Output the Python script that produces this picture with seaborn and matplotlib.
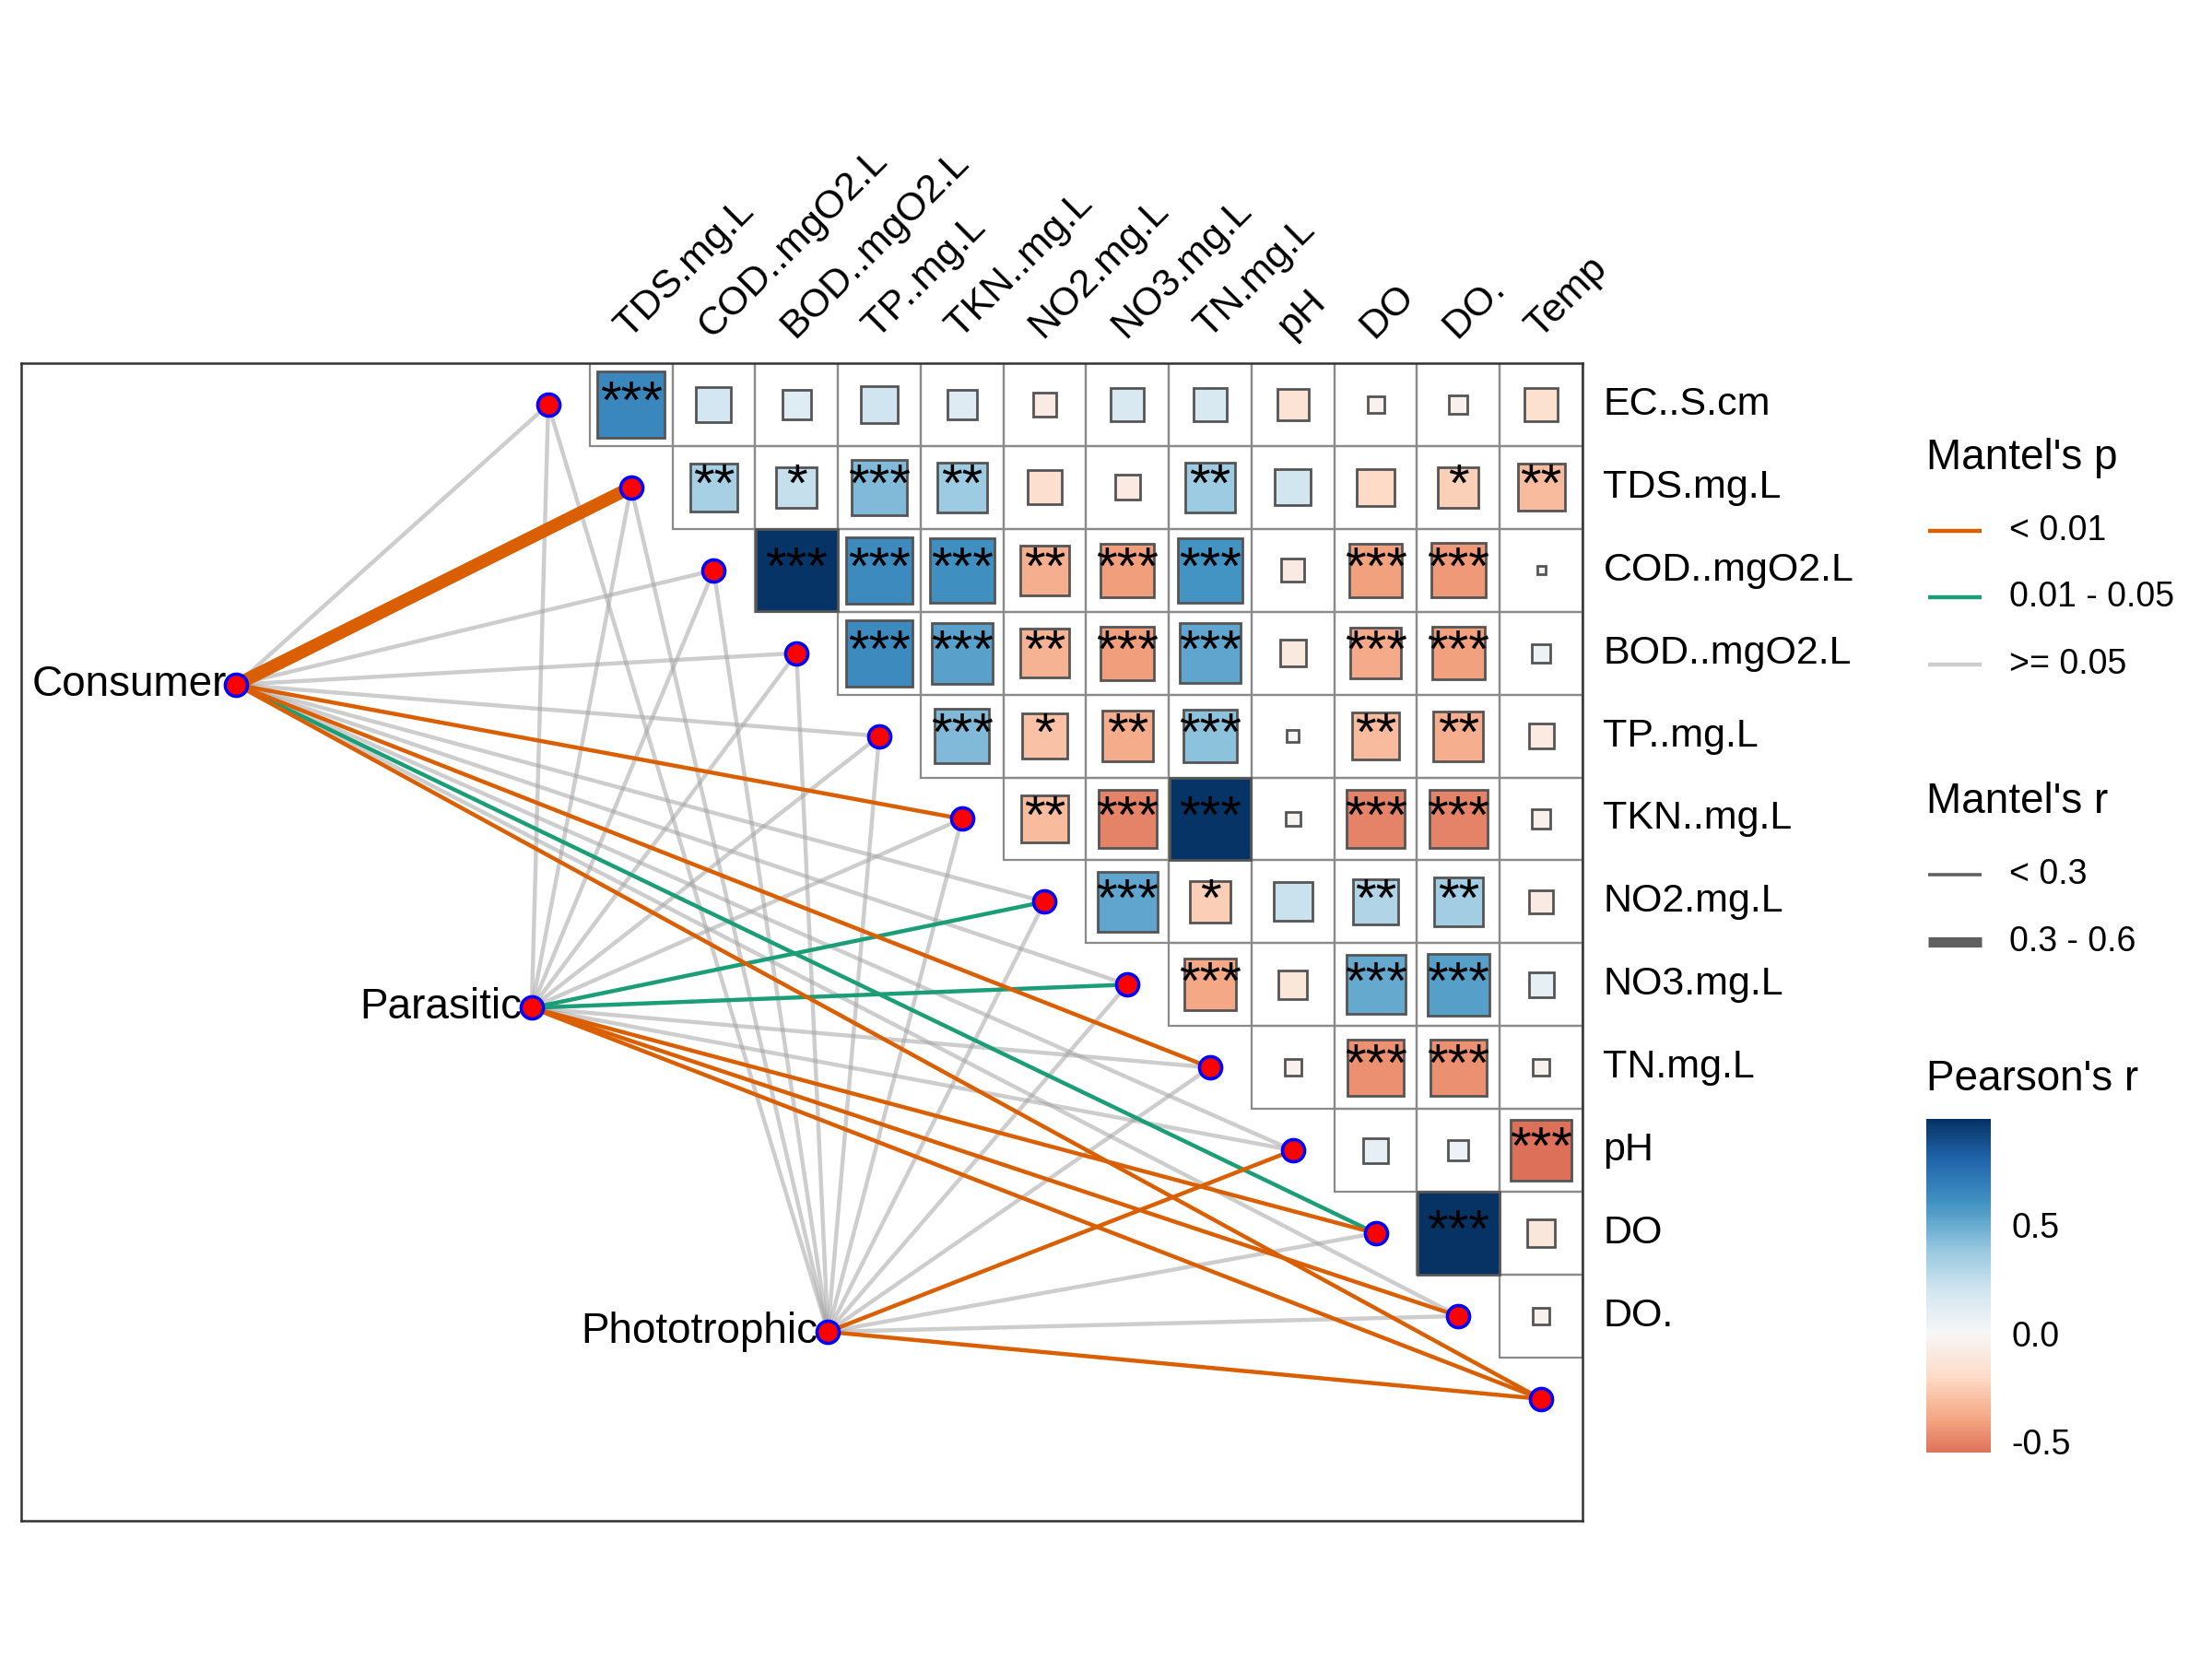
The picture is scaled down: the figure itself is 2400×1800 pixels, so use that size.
import numpy as np
import pandas as pd
import matplotlib
matplotlib.use("Agg")
import matplotlib.pyplot as plt
import seaborn as sns
from matplotlib.colors import ListedColormap, Normalize
from matplotlib.patches import Rectangle
import matplotlib.cm as cm

# ---- data ----
env_vars = ["EC..S.cm", "TDS.mg.L", "COD..mgO2.L", "BOD..mgO2.L", "TP..mg.L",
            "TKN..mg.L", "NO2.mg.L", "NO3.mg.L", "TN.mg.L", "pH", "DO", "DO.", "Temp"]
row_labels = env_vars[:-1]
col_labels = env_vars[1:]

# Pearson's r, upper triangle: row i holds columns i..11
pearson_rows = [
    [0.65, 0.18, 0.12, 0.20, 0.13, -0.08, 0.16, 0.16, -0.14, -0.04, -0.05, -0.16],
    [0.33, 0.24, 0.44, 0.36, -0.17, -0.09, 0.36, 0.19, -0.20, -0.24, -0.32],
    [0.98, 0.64, 0.61, -0.36, -0.42, 0.60, -0.08, -0.41, -0.43, -0.01],
    [0.64, 0.54, -0.35, -0.42, 0.53, -0.10, -0.38, -0.41, 0.05],
    [0.44, -0.29, -0.37, 0.41, -0.02, -0.32, -0.36, -0.09],
    [-0.32, -0.50, 0.98, -0.03, -0.50, -0.50, -0.05],
    [0.53, -0.25, 0.22, 0.30, 0.35, -0.08],
    [-0.39, -0.12, 0.51, 0.55, 0.09],
    [-0.04, -0.46, -0.46, -0.04],
    [0.09, 0.06, -0.55],
    [0.99, -0.11],
    [-0.04],
]
signif_rows = [
    ["***", "", "", "", "", "", "", "", "", "", "", ""],
    ["**", "*", "***", "**", "", "", "**", "", "", "*", "**"],
    ["***", "***", "***", "**", "***", "***", "", "***", "***", ""],
    ["***", "***", "**", "***", "***", "", "***", "***", ""],
    ["***", "*", "**", "***", "", "**", "**", ""],
    ["**", "***", "***", "", "***", "***", ""],
    ["***", "*", "", "**", "**", ""],
    ["***", "", "***", "***", ""],
    ["", "***", "***", ""],
    ["", "", "***"],
    ["***", ""],
    [""],
]

spec_names = ["Consumer", "Parasitic", "Phototrophic"]
consumer_r = [0.14, 0.42, 0.12, 0.09, 0.11, 0.23, 0.10, 0.13, 0.25, 0.12, 0.19, 0.13, 0.26]
consumer_p = [0.12, 0.001, 0.18, 0.31, 0.22, 0.006, 0.27, 0.15, 0.004, 0.19, 0.028, 0.11, 0.003]
parasitic_r = [0.05, 0.06, 0.08, 0.07, 0.04, 0.09, 0.17, 0.18, 0.10, 0.12, 0.24, 0.26, 0.27]
parasitic_p = [0.62, 0.55, 0.41, 0.47, 0.68, 0.33, 0.031, 0.024, 0.21, 0.14, 0.005, 0.003, 0.002]
photo_r = [0.03, 0.04, 0.05, 0.06, 0.04, 0.07, 0.05, 0.06, 0.08, 0.21, 0.10, 0.09, 0.23]
photo_p = [0.71, 0.66, 0.58, 0.52, 0.63, 0.44, 0.57, 0.39, 0.26, 0.007, 0.17, 0.23, 0.004]

p_labels = ["< 0.01", "0.01 - 0.05", ">= 0.05"]
r_labels = ["< 0.3", "0.3 - 0.6"]

# ---- styling / layout ----
p_colors = ["#D95F02", "#1B9E77", (0.635, 0.635, 0.635, 0.53)]
r_widths = [1.6, 5.0]
# node positions in heatmap cell units (layout)
spec_x = [-4.27, -0.70, 2.88]
spec_y = [3.88, 7.78, 11.69]

sns.set_theme(style="white")
plt.rcParams["font.family"] = ["Liberation Sans", "DejaVu Sans"]
plt.rcParams["text.color"] = "black"
plt.rcParams["ytick.color"] = "black"
plt.rcParams["ytick.labelcolor"] = "black"

n = len(row_labels)
corr = np.full((n, n), np.nan)
stars = [["" for _ in range(n)] for _ in range(n)]
for i in range(n):
    for k, v in enumerate(pearson_rows[i]):
        corr[i, i + k] = v
        stars[i][i + k] = signif_rows[i][k]

mantel = pd.DataFrame({
    "spec": np.repeat(spec_names, len(env_vars)),
    "env": env_vars * 3,
    "r": consumer_r + parasitic_r + photo_r,
    "p": consumer_p + parasitic_p + photo_p,
})
mantel["env_idx"] = mantel["env"].map({e: k for k, e in enumerate(env_vars)})
mantel["p_bin"] = pd.cut(mantel["p"], [-1, 0.01, 0.05, 2], right=False, labels=[0, 1, 2]).astype(int)
mantel["r_bin"] = (mantel["r"] >= 0.3).astype(int)

fig = plt.figure(figsize=(12, 9), dpi=200)
ax = fig.add_axes([23 / 2400, 1 - 1650 / 1800, (1717 - 23) / 2400, (1650 - 394) / 1800])

# white background of the upper triangle
mask = np.isnan(corr)
sns.heatmap(np.zeros((n, n)), mask=mask, cmap=ListedColormap(["white"]), cbar=False,
            linewidths=0, xticklabels=False, yticklabels=False, ax=ax)

cmap = plt.get_cmap("RdBu")
norm = Normalize(-1, 1)
for i in range(n):
    for j in range(i, n):
        ax.add_patch(Rectangle((j, i), 1, 1, facecolor="none", edgecolor="#8a8a8a",
                               lw=0.8, zorder=1.5))
        r = corr[i, j]
        side = np.sqrt(abs(r))
        ax.add_patch(Rectangle((j + 0.5 - side / 2, i + 0.5 - side / 2), side, side,
                               facecolor=cmap(norm(r)), edgecolor="#555555", lw=1.0, zorder=3))
        if stars[i][j]:
            ax.text(j + 0.5, i + 0.5, stars[i][j], ha="center", va="center",
                    fontsize=21, color="black", zorder=4)

# mantel links
end_x = mantel["env_idx"] - 0.5
end_y = mantel["env_idx"] + 0.5
sx = mantel["spec"].map(dict(zip(spec_names, spec_x)))
sy = mantel["spec"].map(dict(zip(spec_names, spec_y)))
for pb in [2, 1, 0]:
    sub = mantel[mantel["p_bin"] == pb]
    for idx, row in sub.iterrows():
        ax.plot([sx[idx], end_x[idx]], [sy[idx], end_y[idx]], color=p_colors[pb],
                lw=r_widths[row["r_bin"]], solid_capstyle="butt", zorder=2)

nodes = pd.DataFrame({"x": list(spec_x) + [k - 0.5 for k in range(len(env_vars))],
                      "y": list(spec_y) + [k + 0.5 for k in range(len(env_vars))]})
sns.scatterplot(data=nodes, x="x", y="y", color="red", edgecolor="blue", linewidth=1.3,
                s=75, zorder=5, ax=ax, legend=False)
for name, x, y in zip(spec_names, spec_x, spec_y):
    ax.text(x - 0.12, y, name, ha="right", va="center", fontsize=16.5, zorder=6)

for i, lab in enumerate(row_labels):
    ax.text(n + 0.25, i + 0.5, lab, ha="left", va="center", fontsize=15.5, clip_on=False)
for j, lab in enumerate(col_labels):
    ax.text(j + 0.55, -0.22, lab, ha="left", va="bottom", rotation=45,
            rotation_mode="anchor", fontsize=15.5, clip_on=False)

ax.set_xlim(-6.87, 12.0)
ax.set_ylim(13.97, 0)
ax.set_xlabel("")
ax.set_ylabel("")
for s in ax.spines.values():
    s.set_visible(True)
    s.set_color("#333333")
    s.set_linewidth(0.9)

# ---- legends ----
lax = fig.add_axes([0, 0, 1, 1])
lax.set_xlim(0, 2400)
lax.set_ylim(1800, 0)
lax.axis("off")

lax.text(2090, 497, "Mantel's p", fontsize=16.5, va="center", ha="left")
for y, col, lab in zip([576, 648, 721], p_colors, p_labels):
    lax.plot([2092, 2150], [y, y], color=col, lw=1.6, solid_capstyle="butt")
    lax.text(2180, y, lab, fontsize=13.5, va="center", ha="left")

lax.text(2090, 870, "Mantel's r", fontsize=16.5, va="center", ha="left")
for y, w, lab in zip([949, 1022], r_widths, r_labels):
    lax.plot([2092, 2150], [y, y], color="#5f5f5f", lw=w * 0.8, solid_capstyle="butt")
    lax.text(2180, y, lab, fontsize=13.5, va="center", ha="left")

lax.text(2090, 1171, "Pearson's r", fontsize=16.5, va="center", ha="left")
vmin, vmax = np.nanmin(corr), np.nanmax(corr)
cax = fig.add_axes([2090 / 2400, 1 - 1576 / 1800, 70 / 2400, 362 / 1800])
sm = cm.ScalarMappable(norm=norm, cmap=cmap)
sm.set_array([])
cb = fig.colorbar(sm, cax=cax, boundaries=np.linspace(vmin, vmax, 300), ticks=[-0.5, 0.0, 0.5])
cb.outline.set_visible(False)
cb.ax.set_yticklabels(["-0.5", "0.0", "0.5"])
cax.tick_params(which="major", direction="in", length=6, width=1.0, color="white",
                left=True, right=True, labelsize=13.5, pad=8)

fig.savefig("out.png", dpi=200, facecolor="white")
